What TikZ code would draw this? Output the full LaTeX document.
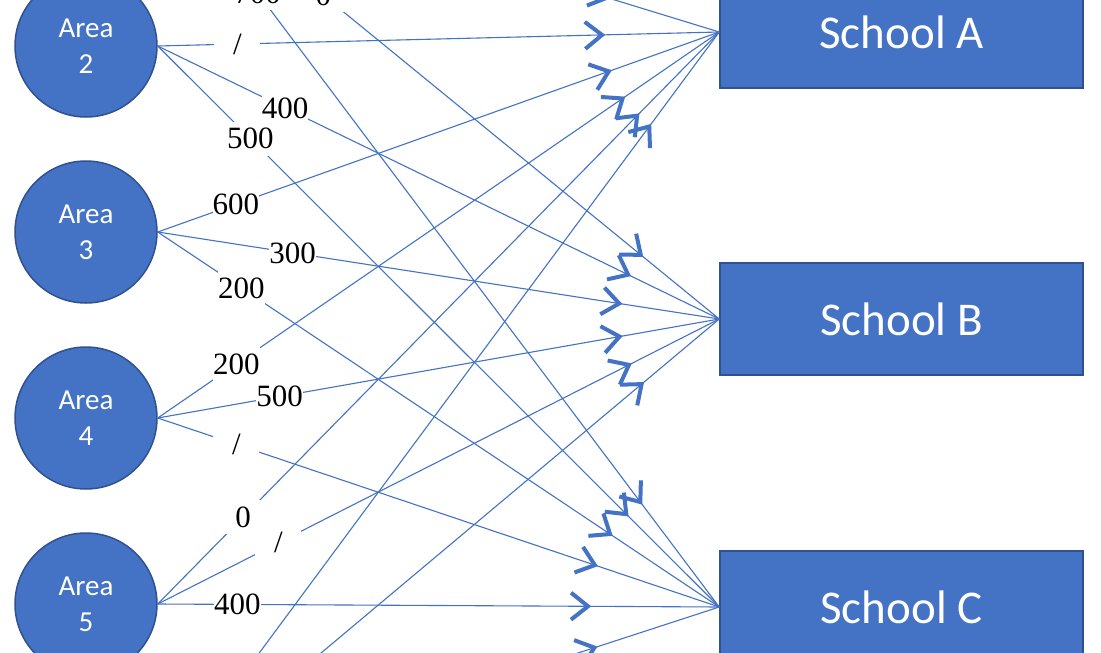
\documentclass[tikz,border=0pt]{standalone}
\usepackage{fontspec}
\setsansfont{Carlito}
\newfontfamily\lblfont{Liberation Serif}
\usetikzlibrary{arrows.meta,decorations.markings}
\definecolor{blu}{HTML}{4472C4}
\definecolor{bord}{HTML}{2F528F}
\tikzset{
  area/.style={circle,fill=blu,draw=bord,line width=1.5pt,minimum size=142pt,inner sep=0pt,text=white,
    font=\sffamily\fontsize{29}{36}\selectfont,align=center},
  school/.style={rectangle,fill=blu,draw=bord,line width=1.5pt,minimum width=363pt,minimum height=112pt,
    inner sep=0pt,text=white,font=\sffamily\fontsize{47}{56}\selectfont},
  lbl/.style={fill=white,inner sep=0pt,minimum width=46pt,minimum height=34pt,text=black,
    font=\lblfont\fontsize{31}{36}\selectfont},
  conn/.style={blu,line width=1.1pt},
  barb/.style={postaction={decorate},decoration={markings,
    mark=at position -#1 with {\arrow{Straight Barb[length=17pt,width=27pt,line width=4pt]}}}},
  toA/.style={barb=114pt},
  toB/.style={barb=98pt},
  toC/.style={barb=128pt}
}
\begin{document}
\begin{tikzpicture}[x=1pt,y=-1pt]
\useasboundingbox (0,0) rectangle (1101,653);
\clip (0,0) rectangle (1101,653);
\fill[white] (0,0) rectangle (1101,653);
% areas
\node[area] (a1) at (86,-140) {Area\\1};
\node[area] (a2) at (86,46) {Area\\2};
\node[area] (a3) at (86,232) {Area\\3};
\node[area] (a4) at (86,418) {Area\\4};
\node[area] (a5) at (86,604) {Area\\5};
\node[area] (a6) at (86,790) {Area\\6};
% schools
\node[school] (sA) at (901.5,32) {School A};
\node[school] (sB) at (901.5,319) {School B};
\node[school] (sC) at (901.5,607) {School C};
% connectors
\draw[conn,toA] (a1.east) -- (sA.west);
\draw[conn,toB] (a1.east) -- node[lbl,pos=.295]{0} (sB.west);
\draw[conn,toC] (a1.east) -- node[lbl,pos=.178]{700} (sC.west);

\draw[conn,toA] (a2.east) -- node[lbl,pos=.142]{/} (sA.west);
\draw[conn,toB] (a2.east) -- node[lbl,pos=.227]{400} (sB.west);
\draw[conn,toC] (a2.east) -- node[lbl,pos=.165]{500} (sC.west);

\draw[conn,toA] (a3.east) -- node[lbl,pos=.139]{600} (sA.west);
\draw[conn,toB] (a3.east) -- node[lbl,pos=.24]{300} (sB.west);
\draw[conn,toC] (a3.east) -- node[lbl,pos=.149]{200} (sC.west);

\draw[conn,toA] (a4.east) -- node[lbl,pos=.14]{200} (sA.west);
\draw[conn,toB] (a4.east) -- node[lbl,pos=.217]{500} (sB.west);
\draw[conn,toC] (a4.east) -- node[lbl,pos=.14]{/} (sC.west);

\draw[conn,toA] (a5.east) -- node[lbl,pos=.152]{0} (sA.west);
\draw[conn,toB] (a5.east) -- node[lbl,pos=.215]{/} (sB.west);
\draw[conn,toC] (a5.east) -- node[lbl,pos=.142]{400} (sC.west);

\draw[conn,toA] (a6.east) -- (sA.west);
\draw[conn,toB] (a6.east) -- (sB.west);
\draw[conn,toC] (a6.east) -- (sC.west);
\end{tikzpicture}
\end{document}
